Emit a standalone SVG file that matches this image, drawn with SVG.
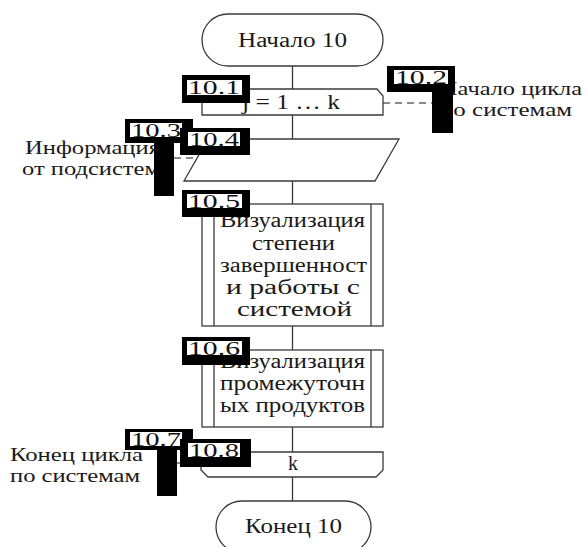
<svg xmlns="http://www.w3.org/2000/svg" width="587" height="547" viewBox="0 0 587 547">
<style>
.sh{fill:#fff;stroke:#3a3a3a;stroke-width:1.3}
.ln{fill:none;stroke:#3a3a3a;stroke-width:1.3}
.dash{fill:none;stroke:#666;stroke-width:1.3;stroke-dasharray:7 5}
.t{font-family:"Liberation Serif","Times New Roman",serif;font-size:20px;fill:#1a1a1a}
.s{font-size:19px}
.m{text-anchor:middle}
.lb{font-family:"Liberation Serif","Times New Roman",serif;font-size:19px;fill:#111}
.blk{fill:#000}
.wh{fill:#fff}
</style>
<rect width="587" height="547" fill="#fff"/>
<g id="connectors">
<line class="ln" x1="292.5" y1="66" x2="292.5" y2="89"/>
<line class="ln" x1="292.5" y1="115" x2="292.5" y2="139"/>
<line class="ln" x1="292.5" y1="181" x2="292.5" y2="204"/>
<line class="ln" x1="292.5" y1="326" x2="292.5" y2="350"/>
<line class="ln" x1="292.5" y1="427" x2="292.5" y2="452"/>
<line class="ln" x1="292.5" y1="477" x2="292.5" y2="501"/>
<line class="dash" x1="383" y1="103" x2="432" y2="103"/>
<line class="dash" x1="174" y1="158" x2="197" y2="158"/>
<line class="dash" x1="177" y1="463" x2="201" y2="463"/>
</g>
<g id="start">
<rect class="sh" x="202" y="14" width="181" height="52" rx="26" ry="26"/>
<text class="t" x="238" y="47" textLength="109" lengthAdjust="spacingAndGlyphs">Начало 10</text>
</g>
<g id="n10_1">
<polygon class="sh" points="202,115 202,96 209,89 377,89 383,96 383,115"/>
<text class="t" x="242" y="109" textLength="98" lengthAdjust="spacingAndGlyphs">j = 1 … k</text>
</g>
<g id="n10_2">
<text class="t s" x="440" y="95" textLength="142" lengthAdjust="spacingAndGlyphs">Начало цикла</text>
<text class="t s" x="440" y="116" textLength="132" lengthAdjust="spacingAndGlyphs">по системам</text>
</g>
<g id="n10_3">
<text class="t s" x="25" y="154" textLength="135" lengthAdjust="spacingAndGlyphs">Информация</text>
<text class="t s" x="22" y="175" textLength="138" lengthAdjust="spacingAndGlyphs">от подсистем</text>
</g>
<g id="n10_4">
<polygon class="sh" points="208,139 399,139 375,181 184,181"/>
</g>
<g id="n10_5">
<rect class="sh" x="202" y="204" width="181" height="122"/>
<line class="ln" x1="214" y1="204" x2="214" y2="326"/>
<line class="ln" x1="371" y1="204" x2="371" y2="326"/>
<text class="t m" x="292.5" y="227" textLength="145" lengthAdjust="spacingAndGlyphs">Визуализация</text>
<text class="t m" x="293.5" y="249.5" textLength="83" lengthAdjust="spacingAndGlyphs">степени</text>
<text class="t m" x="293.5" y="271.5" textLength="147" lengthAdjust="spacingAndGlyphs">завершенност</text>
<text class="t m" x="293" y="293.5" textLength="134" lengthAdjust="spacingAndGlyphs">и работы с</text>
<text class="t m" x="294.5" y="315.5" textLength="115" lengthAdjust="spacingAndGlyphs">системой</text>
</g>
<g id="n10_6">
<rect class="sh" x="202" y="350" width="181" height="77"/>
<line class="ln" x1="214" y1="350" x2="214" y2="427"/>
<line class="ln" x1="371" y1="350" x2="371" y2="427"/>
<text class="t m" x="292.5" y="368" textLength="145" lengthAdjust="spacingAndGlyphs">Визуализация</text>
<text class="t m" x="292.5" y="390" textLength="145" lengthAdjust="spacingAndGlyphs">промежуточн</text>
<text class="t m" x="292.5" y="412" textLength="145" lengthAdjust="spacingAndGlyphs">ых продуктов</text>
</g>
<g id="n10_7">
<text class="t s" x="10" y="461" textLength="133" lengthAdjust="spacingAndGlyphs">Конец цикла</text>
<text class="t s" x="10" y="482" textLength="130" lengthAdjust="spacingAndGlyphs">по системам</text>
</g>
<g id="n10_8">
<polygon class="sh" points="201,452 383,452 383,470 376,477 208,477 201,470"/>
<text class="t m" x="293" y="470">k</text>
</g>
<g id="end">
<rect class="sh" x="216" y="501" width="155" height="52" rx="26" ry="26"/>
<text class="t" x="245" y="533" textLength="97" lengthAdjust="spacingAndGlyphs">Конец 10</text>
</g>
<g id="label10_1">
<rect class="blk" x="182" y="75" width="68" height="28"/>
<rect class="wh" x="187" y="80" width="55" height="15"/>
<text class="lb" x="188" y="94" textLength="52" lengthAdjust="spacingAndGlyphs">10.1</text>
</g>
<g id="label10_2">
<rect class="blk" x="387" y="66" width="68" height="26"/>
<rect class="blk" x="432" y="91" width="21" height="42"/>
<rect class="wh" x="394" y="70" width="54" height="14"/>
<text class="lb" x="395" y="83.5" textLength="52" lengthAdjust="spacingAndGlyphs">10.2</text>
</g>
<g id="label10_3">
<rect class="blk" x="125" y="119" width="68" height="24"/>
<rect class="blk" x="154" y="142" width="20" height="54"/>
<rect class="wh" x="130" y="123" width="52" height="14"/>
<text class="lb" x="131" y="136.5" textLength="50" lengthAdjust="spacingAndGlyphs">10.3</text>
</g>
<g id="label10_4">
<rect class="blk" x="180" y="128" width="70" height="27"/>
<rect class="wh" x="188" y="132" width="52" height="14"/>
<text class="lb" x="189" y="145.5" textLength="50" lengthAdjust="spacingAndGlyphs">10.4</text>
</g>
<g id="label10_5">
<rect class="blk" x="182" y="190" width="68" height="27"/>
<rect class="wh" x="187" y="194" width="55" height="14"/>
<text class="lb" x="188" y="207.5" textLength="52" lengthAdjust="spacingAndGlyphs">10.5</text>
</g>
<g id="label10_6">
<rect class="blk" x="182" y="337" width="68" height="28"/>
<rect class="wh" x="187" y="341" width="55" height="14"/>
<text class="lb" x="188" y="354.5" textLength="52" lengthAdjust="spacingAndGlyphs">10.6</text>
</g>
<g id="label10_7">
<rect class="blk" x="125" y="429" width="68" height="21"/>
<rect class="blk" x="157" y="449" width="20" height="47"/>
<rect class="wh" x="130" y="432" width="52" height="14"/>
<text class="lb" x="131" y="446" textLength="50" lengthAdjust="spacingAndGlyphs">10.7</text>
</g>
<g id="label10_8">
<rect class="blk" x="180" y="439" width="71" height="28"/>
<rect class="wh" x="188" y="443" width="52" height="14"/>
<text class="lb" x="189" y="456.5" textLength="50" lengthAdjust="spacingAndGlyphs">10.8</text>
</g>
</svg>
